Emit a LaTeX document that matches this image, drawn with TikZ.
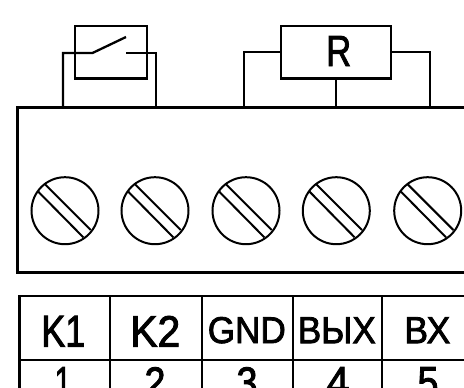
\documentclass[tikz,border=0pt]{standalone}
\usepackage{fontspec}
\setmainfont[RawFeature={embolden=2.2}]{Liberation Sans}
\usepackage{graphicx}
\newcommand{\fitlabel}[3]{\resizebox{#1pt}{#2pt}{#3}}
\newcommand{\slotscrew}[2]{%
  \node[screwhead] (#1) at (#2,210.7) {};
  \draw[thinline] ([shift={(-26.7,-19)}]#1.center) coordinate (#1a) -- ([shift={(18.3,26.6)}]#1.center) coordinate (#1b);
  \draw[thinline] ([shift={(-20,-26.4)}]#1.center) coordinate (#1c) -- ([shift={(25.7,19.3)}]#1.center) coordinate (#1d);
}
\tikzset{
  wire/.style={line width=2.3pt,line join=miter},
  thickline/.style={line width=3pt},
  thinline/.style={line width=2pt},
  box/.style={draw,line width=2.3pt,inner sep=0pt,fill=white},
  screwhead/.style={circle,draw,line width=2pt,minimum size=67pt,inner sep=0pt},
  grid/.style={line width=2.3pt},
  lab/.style={inner sep=0pt,text=black}
}
\begin{document}
\begin{tikzpicture}[x=1pt,y=-1pt]
\useasboundingbox (0,0) rectangle (464,388);
% switch
\coordinate (swl) at (63,107.5);
\coordinate (swr) at (156,107.5);
\coordinate (swa) at (92.5,53);
\coordinate (swb) at (126,37);
\coordinate (swc) at (126,53);
\node[draw,line width=2.3pt,inner sep=0pt,minimum width=72pt,minimum height=52.5pt] (sw) at (111,52.3) {};
\draw[wire] (swl) |- (swa) -- (swb);
\draw[wire] (swc) -| (swr);
% resistor
\coordinate (rl) at (244,107.5);
\coordinate (rr) at (430,107.5);
\coordinate (rm) at (336.3,107.5);
\node[box,minimum width=110pt,minimum height=52.5pt] (R) at (336.3,52.3) {};
\node[lab] (Rt) at (338.7,51) {\fitlabel{25}{30}{R}};
\draw[wire] (rl) |- (R.west);
\draw[wire] (rr) |- (R.east);
\draw[wire] (rm) -- (R.south -| rm);
% terminal block
\coordinate (ba) at (464,107.5);
\coordinate (bb) at (17.5,107.5);
\coordinate (bc) at (17.5,272.5);
\coordinate (bd) at (464,272.5);
\draw[thickline,line join=miter] (ba) -- (bb) -- (bc) -- (bd);
\slotscrew{s1}{65}
\slotscrew{s2}{155}
\slotscrew{s3}{246}
\slotscrew{s4}{336.3}
\slotscrew{s5}{427.7}
% table
\coordinate (ta) at (464,295.7);
\coordinate (tb) at (19.5,295.7);
\coordinate (tc) at (19.5,388);
\coordinate (m1) at (19.5,360);
\coordinate (m2) at (464,360);
\draw[grid,line join=miter] (ta) -- (tb) -- (tc);
\draw[grid] (m1) -- (m2);
\foreach \cx/\nm in {110/c1,201.7/c2,293/c3,382.3/c4}{
  \coordinate (\nm t) at (\cx,295.7);
  \coordinate (\nm b) at (\cx,388);
  \draw[grid] (\nm t) -- (\nm b);
}
\node[lab] (k1) at (63.3,331.3) {\fitlabel{44}{30.7}{K1}};
\node[lab] (k2) at (155.3,331.3) {\fitlabel{50}{30.7}{K2}};
\node[lab] (gnd) at (246.8,330.2) {\fitlabel{78}{26}{GND}};
\node[lab] (vyh) at (336.8,330.2) {\fitlabel{78}{26}{ВЫХ}};
\node[lab] (vh) at (427.3,330.2) {\fitlabel{46}{26}{ВХ}};
\foreach \x/\t/\nm/\w in {63/1/n1/17,155/2/n2/21,247/3/n3/21,338/4/n4/23,428/5/n5/21}{
  \node[lab,anchor=north] (\nm) at (\x,367) {\fitlabel{\w}{30}{\t}};
}
\end{tikzpicture}
\end{document}
